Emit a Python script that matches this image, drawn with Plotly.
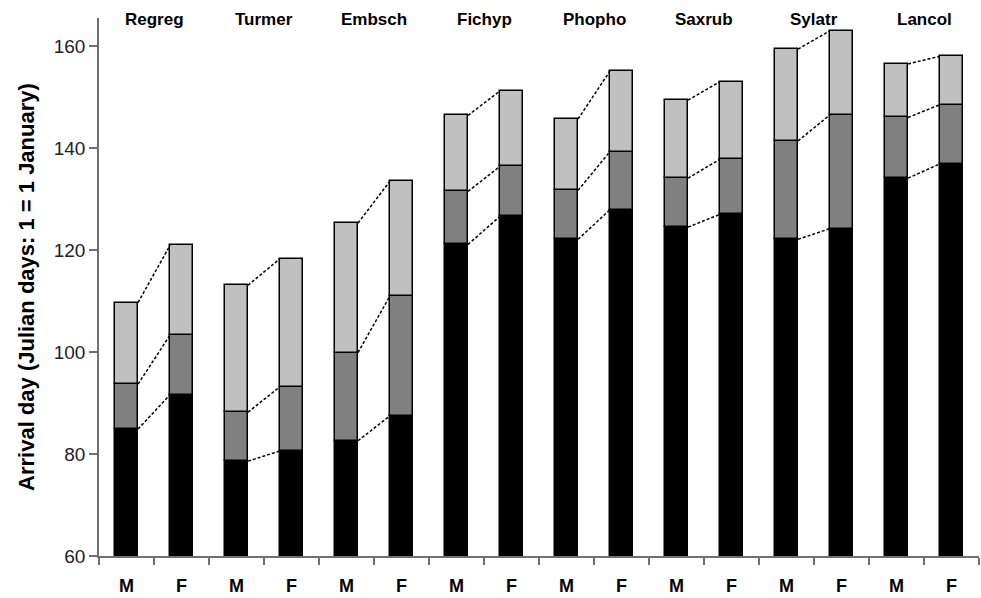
import plotly.graph_objects as go

species = ["Regreg", "Turmer", "Embsch", "Fichyp", "Phopho", "Saxrub", "Sylatr", "Lancol"]
sexes = ["M", "F"]

# cumulative tops of each segment (Julian day), order: M, F per species
black_top = [84.9, 91.6, 78.6, 80.6, 82.6, 87.5, 121.1, 126.6, 122.1, 127.9, 124.5, 127.0, 122.1, 124.2, 134.1, 136.9]
dark_top = [93.7, 103.3, 88.2, 93.2, 99.9, 111.0, 131.5, 136.4, 131.7, 139.3, 134.1, 137.8, 141.4, 146.5, 146.0, 148.5]
light_top = [109.7, 120.9, 113.1, 118.3, 125.3, 133.5, 146.4, 151.2, 145.7, 155.1, 149.4, 153.0, 159.4, 163.0, 156.5, 158.0]

y_min = 60
y_ticks = [60, 80, 100, 120, 140, 160]
bar_w = 0.42

n = len(black_top)
xs = list(range(n))
labels = [sexes[i % 2] for i in range(n)]

FONT = "Liberation Sans, Arial, sans-serif"

fig = go.Figure()
line = dict(color="black", width=1.5)
fig.add_trace(go.Bar(x=xs, y=[b - y_min for b in black_top], base=y_min, width=bar_w,
                     marker=dict(color="#000000", line=line), showlegend=False))
fig.add_trace(go.Bar(x=xs, y=[d - b for d, b in zip(dark_top, black_top)], base=black_top, width=bar_w,
                     marker=dict(color="#808080", line=line), showlegend=False))
fig.add_trace(go.Bar(x=xs, y=[l - d for l, d in zip(light_top, dark_top)], base=dark_top, width=bar_w,
                     marker=dict(color="#c0c0c0", line=line), showlegend=False))

# dashed connectors M -> F
for s in range(len(species)):
    m, f = 2 * s, 2 * s + 1
    for tops in (black_top, dark_top, light_top):
        fig.add_trace(go.Scatter(x=[m + bar_w / 2, f - bar_w / 2], y=[tops[m], tops[f]],
                                 mode="lines", line=dict(color="black", width=1.5, dash="3px,2px"),
                                 showlegend=False, hoverinfo="skip"))

for s, name in enumerate(species):
    fig.add_annotation(x=2 * s + 0.5, y=1, xref="x", yref="paper", text=f"<b>{name}</b>",
                       showarrow=False, yanchor="middle", yshift=-1,
                       font=dict(size=17, color="black", family=FONT))

fig.add_annotation(x=-0.083, y=0.5, xref="paper", yref="paper",
                   text="<b>Arrival day (Julian days: 1 = 1 January)</b>", textangle=-90,
                   showarrow=False, xanchor="center", yanchor="middle",
                   font=dict(size=22, color="black", family=FONT))

fig.update_layout(
    width=981, height=598,
    margin=dict(l=99, r=2, t=18, b=40),
    plot_bgcolor="white", paper_bgcolor="white",
    barmode="overlay", bargap=0,
    font=dict(family=FONT, color="black"),
)
fig.update_xaxes(
    range=[-0.5, n - 0.5], tickmode="array", tickvals=xs, ticktext=[f"<b>{t}</b>" for t in labels],
    ticks="outside", ticklen=0, tickfont=dict(size=18, color="black"), ticklabelstandoff=13,
    showline=True, linecolor="#707070", linewidth=1.5, showgrid=False, zeroline=False,
    minor=dict(tickmode="linear", tick0=-0.5, dtick=1, ticks="outside", ticklen=7,
               tickcolor="#707070", tickwidth=1.5, showgrid=False),
)
fig.update_yaxes(
    range=[y_min, 165.5], tickmode="array", tickvals=y_ticks,
    ticks="outside", ticklen=8, tickcolor="#707070", tickwidth=1.5,
    tickfont=dict(size=19, color="#222222"),
    showline=True, linecolor="#707070", linewidth=1.5, showgrid=False, zeroline=False,
)

fig.write_html("out.html", config={"displayModeBar": False},
               post_script="document.body.style.margin='0';")
